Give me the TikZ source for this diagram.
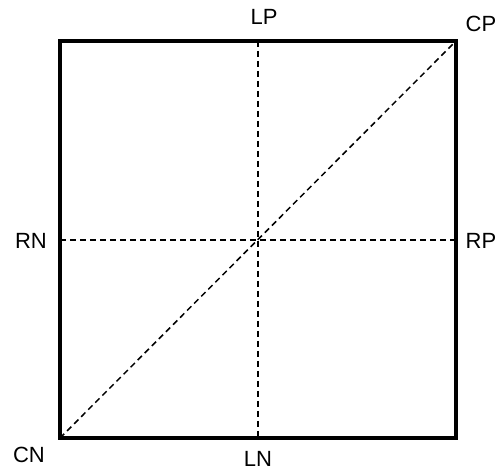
\documentclass[tikz,border=0pt]{standalone}
\usepackage{fontspec}
\setmainfont{Liberation Sans}
\tikzset{
  frame/.style={line width=3.5pt},
  guide/.style={line width=1.5pt,dash pattern=on 6pt off 4pt},
  pole/.style={font=\fontsize{22}{22}\selectfont,inner sep=0pt}
}
\begin{document}
\begin{tikzpicture}[x=1pt,y=1pt]
  \useasboundingbox (0,0) rectangle (499,472);
  % corners and midpoints of the square
  \coordinate (sw) at (60,34);
  \coordinate (ne) at (456,431);
  \coordinate (top) at (258,431);
  \coordinate (bot) at (258,34);
  \coordinate (lft) at (60,232);
  \coordinate (rgt) at (456,232);

  \draw[guide] (top) -- (bot);
  \draw[guide] (lft) -- (rgt);
  \draw[guide] (sw) -- (ne);
  \draw[frame] (sw) rectangle (ne);

  \node[pole] (lp) at (264,455) {LP};
  \node[pole] (cp) at (481,448) {CP};
  \node[pole] (rn) at (31,231) {RN};
  \node[pole] (rp) at (481,231) {RP};
  \node[pole] (cn) at (29,17) {CN};
  \node[pole] (ln) at (258,13) {LN};
\end{tikzpicture}
\end{document}
